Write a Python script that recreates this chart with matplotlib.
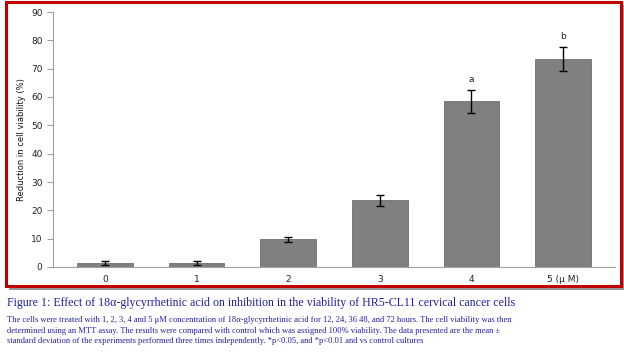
import matplotlib
matplotlib.use("Agg")
import matplotlib.pyplot as plt
from matplotlib.patches import Rectangle

# data
doses = ["0", "1", "2", "3", "4", "5 (\u03bc M)"]
reduction = [1.5, 1.5, 9.8, 23.5, 58.5, 73.5]
sd = [0.7, 0.7, 0.9, 2.0, 4.0, 4.2]
marks = ["", "", "", "", "a", "b"]

fig = plt.figure(figsize=(6.24, 3.55), dpi=100)

# red frame with grey shadow
W, H = 624, 355
fig.patches.append(Rectangle((9 / W, 1 - 290 / H), 615 / W, 285 / H,
                             transform=fig.transFigure, facecolor="#9a9a9a",
                             edgecolor="none", zorder=0))
fig.patches.append(Rectangle((6 / W, 1 - 286 / H), 615 / W, 284 / H,
                             transform=fig.transFigure, facecolor="white",
                             edgecolor="#c00000", lw=2.2, zorder=1))

ax = fig.add_axes([53 / W, 1 - 267 / H, 562 / W, 255 / H])
ax.set_zorder(2)
x = range(len(doses))
ax.bar(x, reduction, width=0.605, color="#808080", edgecolor="#6e6e6e", lw=0.6)
ax.errorbar(x, reduction, yerr=sd, fmt="none", ecolor="black", elinewidth=1,
            capsize=3, capthick=1)
for i, m in enumerate(marks):
    if m:
        ax.text(i, reduction[i] + sd[i] + 2, m, ha="center", va="bottom",
                fontsize=6.5, color="#222222")

ax.set_xlim(-0.568, 5.568)
ax.set_ylim(0, 90)
ax.set_yticks(range(0, 91, 10))
ax.set_xticks(list(x))
ax.set_xticklabels(doses)
ax.tick_params(axis="both", labelsize=6.5, colors="#222222")
ax.tick_params(axis="y", length=4, color="#a0a0a0", width=0.8)
ax.tick_params(axis="x", length=0, pad=6)
for s in ["top", "right"]:
    ax.spines[s].set_visible(False)
for s in ["left", "bottom"]:
    ax.spines[s].set_color("#a0a0a0")
ax.set_ylabel("Reduction in cell viability (%)", fontsize=6, color="#111111")

# caption
fig.text(7 / W, 1 - 303 / H,
         "Figure 1: Effect of 18\u03b1-glycyrrhetinic acid on inhibition in the viability of HR5-CL11 cervical cancer cells",
         fontsize=8.6, color="#2020a0", family="Liberation Serif", va="center")
caption = ("The cells were treated with 1, 2, 3, 4 and 5 \u03bcM concentration of 18\u03b1-glycyrrhetinic acid for 12, 24, 36 48, and 72 hours. The cell viability was then\n"
           "determined using an MTT assay. The results were compared with control which was assigned 100% viability. The data presented are the mean \u00b1\n"
           "standard deviation of the experiments performed three times independently. *p<0.05, and *p<0.01 and vs control cultures")
fig.text(7 / W, 1 - 316 / H, caption, fontsize=6.15, color="#2020a0",
         family="Liberation Serif", va="top", linespacing=1.45)

fig.savefig("out.png", dpi=100)
